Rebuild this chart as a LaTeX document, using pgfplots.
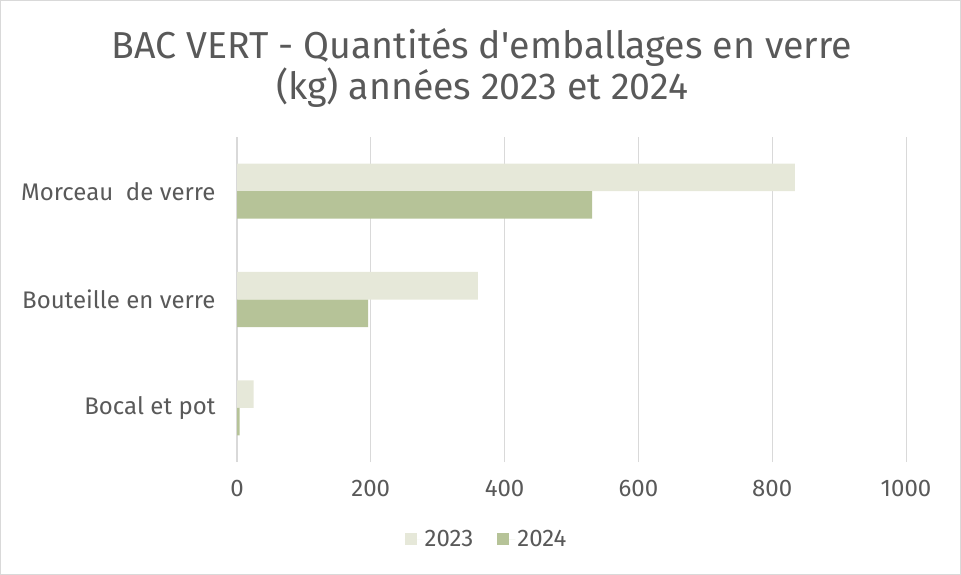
\documentclass[border=0pt]{standalone}
\usepackage{fontspec}
\setmainfont{Fira Sans}
\usepackage{pgfplots}
\pgfplotsset{compat=1.18}
\definecolor{txt}{HTML}{595959}
\definecolor{gridc}{HTML}{D9D9D9}
\definecolor{c2023}{HTML}{E6E8D9}
\definecolor{c2024}{HTML}{B6C398}

\begin{document}
\begin{tikzpicture}
\draw[gridc, line width=1pt] (0.5pt,-0.5pt) rectangle (960.5pt,-574.5pt);
\node[txt, align=center, font=\fontsize{37.5}{41}\selectfont] at (482pt,-68pt)
  {BAC VERT - Quantités d\textquotesingle emballages en verre\\(kg) années 2023 et 2024};
\begin{axis}[
    at={(237pt,-462pt)}, anchor=south west,
    scale only axis, width=669pt, height=325pt,
    xmin=0, xmax=1000, ymin=-0.5, ymax=2.5,
    xtick={0,200,...,1000},
    ytick={0,1,2},
    yticklabels={Bocal et pot, Bouteille en verre, Morceau\ \ de verre},
    xmajorgrids, grid style={gridc, line width=1pt},
    axis lines=left,
    x axis line style={draw=none},
    y axis line style={-, draw=gridc, line width=1.5pt},
    major tick length=0pt,
    ticklabel style={txt, font=\fontsize{24}{27}\selectfont},
    xticklabel style={yshift=-15pt},
    yticklabel style={xshift=-18pt},
    /pgf/number format/assume math mode=true,
    /pgf/number format/1000 sep={},
    xbar, bar width=0.254,
    legend style={at={(0.373,-0.198)}, anchor=north, draw=none, legend columns=2,
        font=\fontsize{24}{27}\selectfont, text=txt,
        /tikz/every even column/.append style={column sep=22pt}},
    legend image code/.code={\path (0pt,0pt) -- (18pt,0pt);
        \fill[#1] (0pt,-6pt) rectangle (12pt,6pt);},
]
\addplot[fill=c2023, draw=none, bar shift=0.127] coordinates {
    (25,0) (360,1) (834,2)
};
\addplot[fill=c2024, draw=none, bar shift=-0.127] coordinates {
    (4,0) (196,1) (531,2)
};
\legend{2023, 2024}
\end{axis}
\end{tikzpicture}
\end{document}
